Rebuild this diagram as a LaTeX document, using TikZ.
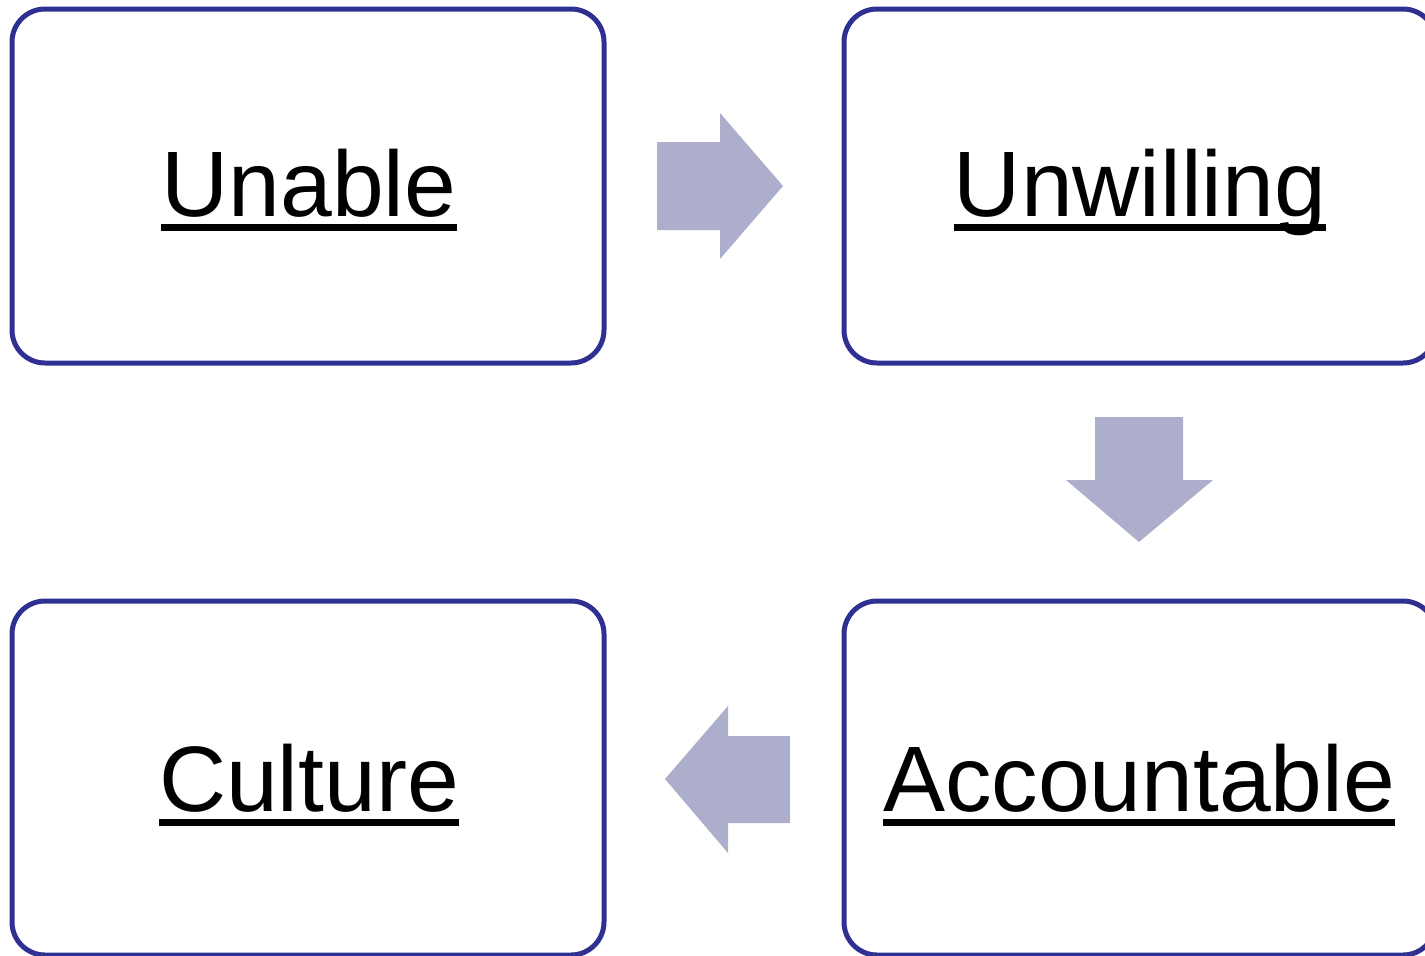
\documentclass[tikz,border=0pt]{standalone}
\usepackage{fontspec}
\setmainfont{Liberation Sans}
\definecolor{boxline}{RGB}{46,49,146}
\definecolor{arrowfill}{RGB}{173,174,203}
\tikzset{
  stage/.style={draw=boxline, line width=5pt, rounded corners=33pt,
    minimum width=592pt, minimum height=354pt, inner sep=0pt},
  label/.style={font=\fontsize{93pt}{107pt}\selectfont, inner sep=0pt, anchor=base},
  uline/.style={line width=7pt},
  blockarrow/.style={fill=arrowfill, draw=none}
}
\newcommand{\ulabel}[3]{%
  \node[label] (#1) at (#2) {#3};
  \draw[uline] ([yshift=-11pt]#1.base west) -- ([yshift=-11pt]#1.base east);}
\begin{document}
\begin{tikzpicture}[x=1pt,y=-1pt]
\useasboundingbox (0,0) rectangle (1425,956);
\clip (0,0) rectangle (1425,956);
% four stage boxes
\node[stage] (unable) at (308,186) {};
\node[stage] (unwilling) at (1140,186) {};
\node[stage] (accountable) at (1140,778) {};
\node[stage] (culture) at (308,778) {};
% underlined titles
\ulabel{t1}{309,216}{Unable}
\ulabel{t2}{1140,216}{Unwilling}
\ulabel{t3}{1139,811}{Accountable}
\ulabel{t4}{309,811}{Culture}
% block arrows between the stages
\fill[blockarrow] (657,142) -- (720,142) -- (720,113) -- (783,186)
  -- (720,259) -- (720,230) -- (657,230) -- cycle;
\fill[blockarrow] (1095,417) -- (1183,417) -- (1183,480) -- (1213,480)
  -- (1139,542) -- (1066,480) -- (1095,480) -- cycle;
\fill[blockarrow] (790,736) -- (728,736) -- (728,706) -- (665,779)
  -- (728,853) -- (728,823) -- (790,823) -- cycle;
\end{tikzpicture}
\end{document}
